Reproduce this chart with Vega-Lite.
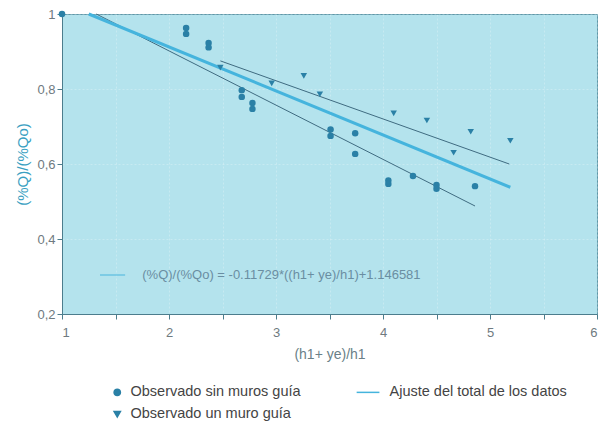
{
  "$schema": "https://vega.github.io/schema/vega-lite/v6.json",
  "width": 535,
  "height": 300,
  "autosize": {"type": "none"},
  "padding": {"left": 62, "top": 14, "right": 11, "bottom": 120},
  "background": "white",
  "config": {
    "font": "Liberation Sans",
    "view": {"fill": "#b4e3ed", "stroke": "#5d97a8", "strokeWidth": 1},
    "axis": {
      "domainColor": "#4c7d8d",
      "tickColor": "#4c7d8d",
      "labelColor": "#6f7a80",
      "labelFontSize": 13,
      "titleFontSize": 14,
      "titleFontWeight": "normal",
      "gridColor": "#ffffff",
      "gridOpacity": 0.25,
      "gridDash": [2, 2]
    }
  },
  "datasets": {
    "obs": [
      {"serie": "Observado sin muros guía", "x": 1.0, "y": 1.0},
      {"serie": "Observado sin muros guía", "x": 2.16, "y": 0.963},
      {"serie": "Observado sin muros guía", "x": 2.16, "y": 0.947},
      {"serie": "Observado sin muros guía", "x": 2.37, "y": 0.923},
      {"serie": "Observado sin muros guía", "x": 2.37, "y": 0.911},
      {"serie": "Observado sin muros guía", "x": 2.68, "y": 0.797},
      {"serie": "Observado sin muros guía", "x": 2.68, "y": 0.779},
      {"serie": "Observado sin muros guía", "x": 2.78, "y": 0.763},
      {"serie": "Observado sin muros guía", "x": 2.78, "y": 0.747},
      {"serie": "Observado sin muros guía", "x": 3.51, "y": 0.692},
      {"serie": "Observado sin muros guía", "x": 3.51, "y": 0.675},
      {"serie": "Observado sin muros guía", "x": 3.74, "y": 0.682},
      {"serie": "Observado sin muros guía", "x": 3.74, "y": 0.627},
      {"serie": "Observado sin muros guía", "x": 4.05, "y": 0.556},
      {"serie": "Observado sin muros guía", "x": 4.05, "y": 0.547},
      {"serie": "Observado sin muros guía", "x": 4.28, "y": 0.568},
      {"serie": "Observado sin muros guía", "x": 4.5, "y": 0.544},
      {"serie": "Observado sin muros guía", "x": 4.5, "y": 0.534},
      {"serie": "Observado sin muros guía", "x": 4.86, "y": 0.541},
      {"serie": "Observado un muro guía", "x": 2.48, "y": 0.857},
      {"serie": "Observado un muro guía", "x": 2.96, "y": 0.815},
      {"serie": "Observado un muro guía", "x": 3.26, "y": 0.835},
      {"serie": "Observado un muro guía", "x": 3.41, "y": 0.786},
      {"serie": "Observado un muro guía", "x": 4.1, "y": 0.735},
      {"serie": "Observado un muro guía", "x": 4.41, "y": 0.716},
      {"serie": "Observado un muro guía", "x": 4.66, "y": 0.63},
      {"serie": "Observado un muro guía", "x": 4.82, "y": 0.686},
      {"serie": "Observado un muro guía", "x": 5.19, "y": 0.662}
    ],
    "total": [
      {"serie": "Ajuste del total de los datos", "x": 1.25, "y": 1.0},
      {"serie": "Ajuste del total de los datos", "x": 5.19, "y": 0.538}
    ],
    "parciales": [
      {"linea": "sin", "x": 1.32, "y": 1.0},
      {"linea": "sin", "x": 4.86, "y": 0.488},
      {"linea": "un", "x": 2.48, "y": 0.875},
      {"linea": "un", "x": 5.18, "y": 0.6}
    ]
  },
  "layer": [
    {
      "data": {"name": "parciales"},
      "mark": {"type": "line", "color": "#3f6b80", "strokeWidth": 1},
      "encoding": {
        "x": {"field": "x", "type": "quantitative"},
        "y": {"field": "y", "type": "quantitative"},
        "detail": {"field": "linea"}
      }
    },
    {
      "data": {"name": "total"},
      "mark": {"type": "line", "strokeWidth": 3},
      "encoding": {
        "x": {"field": "x", "type": "quantitative"},
        "y": {"field": "y", "type": "quantitative"},
        "color": {"field": "serie", "type": "nominal"}
      }
    },
    {
      "data": {"name": "obs"},
      "mark": {"type": "point", "filled": true, "opacity": 1, "size": 42},
      "encoding": {
        "x": {
          "field": "x", "type": "quantitative",
          "scale": {"domain": [1, 6], "nice": false, "zero": false},
          "axis": {
            "title": "(h1+ ye)/h1",
            "titleColor": "#6a7f88",
            "values": [1, 1.5, 2, 2.5, 3, 3.5, 4, 4.5, 5, 5.5, 6],
            "labelExpr": "datum.value % 1 == 0 ? format(datum.value, 'd') : ''",
            "labelPadding": 7,
            "titlePadding": 8,
            "grid": true,
            "gridOpacity": 0.25
          }
        },
        "y": {
          "field": "y", "type": "quantitative",
          "scale": {"domain": [0.2, 1], "nice": false, "zero": false},
          "axis": {
            "title": "(%Q)/(%Qo)",
            "titleColor": "#3a9fc2",
            "titleFontSize": 15,
            "values": [0.2, 0.3, 0.4, 0.5, 0.6, 0.7, 0.8, 0.9, 1],
            "labelExpr": "round(datum.value * 10) % 2 == 0 ? replace(format(datum.value, '.1~f'), '.', ',') : ''",
            "titlePadding": 6,
            "grid": true
          }
        },
        "color": {
          "field": "serie", "type": "nominal",
          "scale": {
            "domain": ["Observado sin muros guía", "Observado un muro guía", "Ajuste del total de los datos"],
            "range": ["#2a80a6", "#2a80a6", "#45b4dd"]
          },
          "legend": {
            "title": null,
            "orient": "none",
            "legendX": 48,
            "legendY": 371,
            "columns": 2,
            "columnPadding": 52,
            "rowPadding": 7,
            "symbolSize": 40,
            "labelFontSize": 14.5,
            "labelLimit": 0,
            "labelColor": "#444444",
            "labelOffset": 6,
            "encode": {
              "symbols": {
                "update": {
                  "stroke": {"scale": "color", "field": "value"},
                  "strokeWidth": {"value": 1.5}
                }
              }
            }
          }
        },
        "shape": {
          "field": "serie", "type": "nominal",
          "scale": {
            "domain": ["Observado sin muros guía", "Observado un muro guía", "Ajuste del total de los datos"],
            "range": ["circle", "triangle-down", "M-6.2,0H1"]
          }
        }
      }
    },
    {
      "data": {"values": [{}]},
      "mark": {"type": "rule", "color": "#6cc4e2", "strokeWidth": 1.5},
      "encoding": {
        "x": {"datum": 1.355, "type": "quantitative"},
        "x2": {"datum": 1.59},
        "y": {"datum": 0.304, "type": "quantitative"}
      }
    },
    {
      "data": {"values": [{}]},
      "mark": {"type": "text", "align": "left", "baseline": "middle", "fontSize": 13, "color": "#6a8ea2", "font": "Liberation Sans"},
      "encoding": {
        "x": {"datum": 1.75, "type": "quantitative"},
        "y": {"datum": 0.304, "type": "quantitative"},
        "text": {"value": "(%Q)/(%Qo) = -0.11729*((h1+ ye)/h1)+1.146581"}
      }
    }
  ]
}
